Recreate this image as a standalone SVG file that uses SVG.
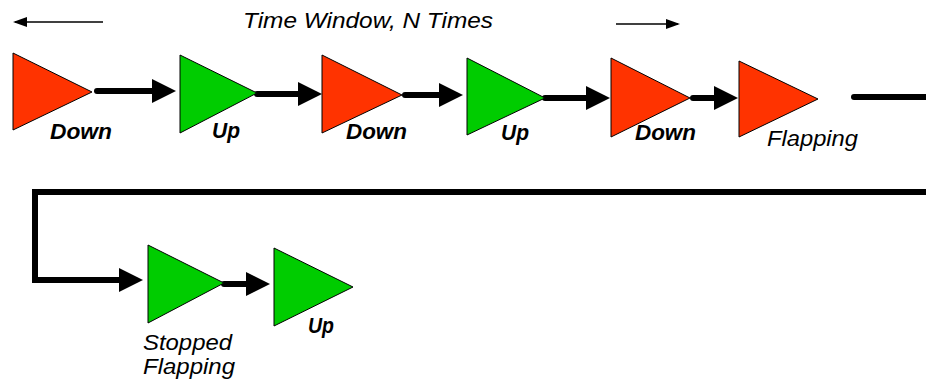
<svg xmlns="http://www.w3.org/2000/svg" width="926" height="379" viewBox="0 0 926 379">
<style>
.red{fill:#FF3300;stroke:#000;stroke-width:1}
.green{fill:#00CC00;stroke:#000;stroke-width:1}
.thick{stroke:#000;stroke-width:6;fill:none;stroke-linecap:round}
.thin{stroke:#000;stroke-width:1.5;fill:none}
.lbl{font-family:"Liberation Sans",Arial,sans-serif;font-style:italic;font-weight:bold;font-size:22px;fill:#000}
.lbl2{font-family:"Liberation Sans",Arial,sans-serif;font-style:italic;font-size:22px;fill:#000}
</style>
<defs>
<marker id="big" viewBox="0 0 24 24" refX="16" refY="12" markerWidth="24" markerHeight="24" markerUnits="userSpaceOnUse" orient="auto">
<path d="M0,0 L24,12 L0,24 z" fill="#000"/>
</marker>
<marker id="small" viewBox="0 0 14 10" refX="12" refY="5" markerWidth="14" markerHeight="10" markerUnits="userSpaceOnUse" orient="auto">
<path d="M0,0 L14,5 L0,10 z" fill="#000"/>
</marker>
</defs>
<g id="title">
<text class="lbl2" x="243" y="28" textLength="250" lengthAdjust="spacingAndGlyphs">Time Window, N Times</text>
<line class="thin" x1="103" y1="22" x2="15" y2="22" marker-end="url(#small)"/>
<line class="thin" x1="616" y1="24" x2="678" y2="24" marker-end="url(#small)"/>
</g>
<g id="connectors">
<line class="thick" x1="97" y1="91" x2="168" y2="91" marker-end="url(#big)"/>
<line class="thick" x1="257" y1="94" x2="314" y2="94" marker-end="url(#big)"/>
<line class="thick" x1="405" y1="95" x2="455" y2="95" marker-end="url(#big)"/>
<line class="thick" x1="545" y1="98" x2="602" y2="98" marker-end="url(#big)"/>
<line class="thick" x1="693" y1="98" x2="730" y2="98" marker-end="url(#big)"/>
<line class="thick" x1="854" y1="97" x2="930" y2="97"/>
<polyline class="thick" points="930,192 35,192 35,280 135,280" marker-end="url(#big)"/>
<line class="thick" x1="224" y1="284" x2="262" y2="284" marker-end="url(#big)"/>
</g>
<g id="n1"><polygon class="red" points="13,53 92,92 13,130"/><text class="lbl" x="50" y="139" textLength="62" lengthAdjust="spacingAndGlyphs">Down</text></g>
<g id="n2"><polygon class="green" points="180,55 257,93 180,133"/><text class="lbl" x="212" y="138" textLength="28" lengthAdjust="spacingAndGlyphs">Up</text></g>
<g id="n3"><polygon class="red" points="322,55 402,95 322,133"/><text class="lbl" x="346" y="139" textLength="61" lengthAdjust="spacingAndGlyphs">Down</text></g>
<g id="n4"><polygon class="green" points="467,58 545,98 467,135"/><text class="lbl" x="501" y="140" textLength="28" lengthAdjust="spacingAndGlyphs">Up</text></g>
<g id="n5"><polygon class="red" points="611,58 690,98 611,137"/><text class="lbl" x="635" y="140" textLength="61" lengthAdjust="spacingAndGlyphs">Down</text></g>
<g id="n6"><polygon class="red" points="739,61 818,99 739,137"/><text class="lbl2" x="767" y="146" textLength="91" lengthAdjust="spacingAndGlyphs">Flapping</text></g>
<g id="n7"><polygon class="green" points="148,245 224,283 148,323"/><text class="lbl2" x="143" y="350" textLength="89" lengthAdjust="spacingAndGlyphs">Stopped</text><text class="lbl2" x="143" y="374" textLength="92" lengthAdjust="spacingAndGlyphs">Flapping</text></g>
<g id="n8"><polygon class="green" points="274,248 353,287 274,326"/><text class="lbl" x="308" y="333" textLength="26" lengthAdjust="spacingAndGlyphs">Up</text></g>
</svg>
